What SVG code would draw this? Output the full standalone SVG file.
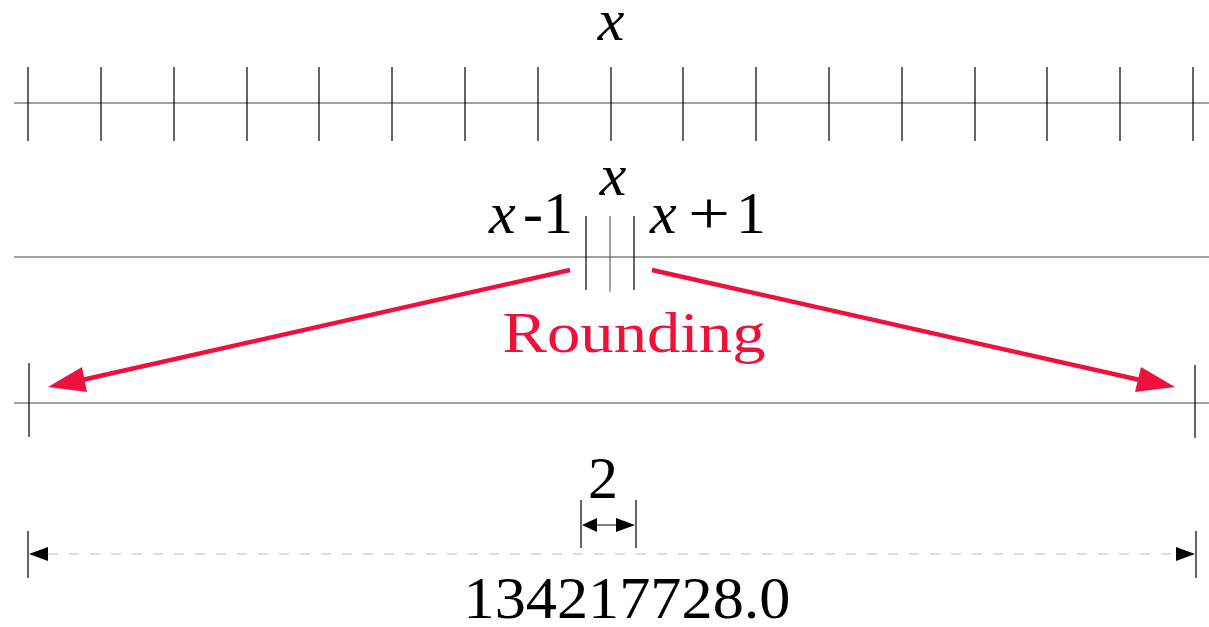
<svg xmlns="http://www.w3.org/2000/svg" width="1209" height="627" viewBox="0 0 1209 627">
<style>
.axis{stroke:#444;stroke-width:1.2;fill:none}
.tick{stroke:#000;stroke-width:1.2;fill:none}
.t{font-family:"Liberation Serif","DejaVu Serif",serif;font-size:60px;fill:#000}
.i{font-style:italic}
.red{stroke:#F0103C;stroke-width:4.5;fill:none}
.redf{fill:#F0103C}
</style>
<rect width="1209" height="627" fill="#fff"/>
<g id="axis-top">
<line class="axis" x1="14" y1="103" x2="1209" y2="103"/>
<path class="tick" d="M28 67V141M101 67V141M174 67V141M247 67V141M319 67V141M392 67V141M465 67V141M538 67V141M611 67V141M683 67V141M756 67V141M829 67V141M902 67V141M975 67V141M1047 67V141M1120 67V141M1193 67V141"/>
<text class="t i" x="611" y="40" text-anchor="middle">x</text>
</g>
<g id="axis-mid">
<line class="axis" x1="14" y1="257" x2="1209" y2="257"/>
<path class="tick" d="M586 216V290M634 216V290"/>
<line x1="610" y1="216" x2="610" y2="292" stroke="#666" stroke-width="1.2"/>
<text class="t i" x="613" y="195" text-anchor="middle">x</text>
<text class="t"><tspan class="i" x="489" y="233">x</tspan><tspan x="523" y="233">-1</tspan></text>
<text class="t"><tspan class="i" x="650" y="233">x</tspan><tspan x="688" y="233" textLength="42" lengthAdjust="spacingAndGlyphs">+</tspan><tspan x="736" y="233">1</tspan></text>
</g>
<g id="axis-bottom">
<line class="axis" x1="14" y1="403" x2="1209" y2="403"/>
<path class="tick" d="M29 363V437M1195 365V438"/>
</g>
<g id="connectors">
<line class="red" x1="570" y1="270" x2="82" y2="380"/>
<polygon class="redf" points="48,387 82,367 87,392"/>
<line class="red" x1="652" y1="270" x2="1140" y2="380"/>
<polygon class="redf" points="1175,387 1141,367 1135,392"/>
</g>
<g id="rounding-label">
<text x="634" y="352" text-anchor="middle" font-family="Liberation Serif, DejaVu Serif, serif" font-size="58" fill="#F0103C" textLength="263" lengthAdjust="spacingAndGlyphs">Rounding</text>
</g>
<g id="dim-small">
<path class="tick" d="M581 500V548M636 500V548"/>
<line x1="596" y1="525" x2="617" y2="525" stroke="#000" stroke-width="1"/>
<polygon points="582,525 597,518 597,532" fill="#000"/>
<polygon points="635,525 616,518 616,532" fill="#000"/>
<text class="t" x="603" y="498" text-anchor="middle">2</text>
</g>
<g id="dim-large">
<path class="tick" d="M28 531V578M1196 531V578"/>
<line x1="48" y1="554" x2="1176" y2="554" stroke="#bbb" stroke-width="1.2" stroke-dasharray="10 11"/>
<polygon points="29,554 48,547 48,561" fill="#000"/>
<polygon points="1195,554 1176,547 1176,561" fill="#000"/>
<text class="t" x="627" y="618" text-anchor="middle" textLength="327" lengthAdjust="spacingAndGlyphs">134217728.0</text>
</g>
</svg>
